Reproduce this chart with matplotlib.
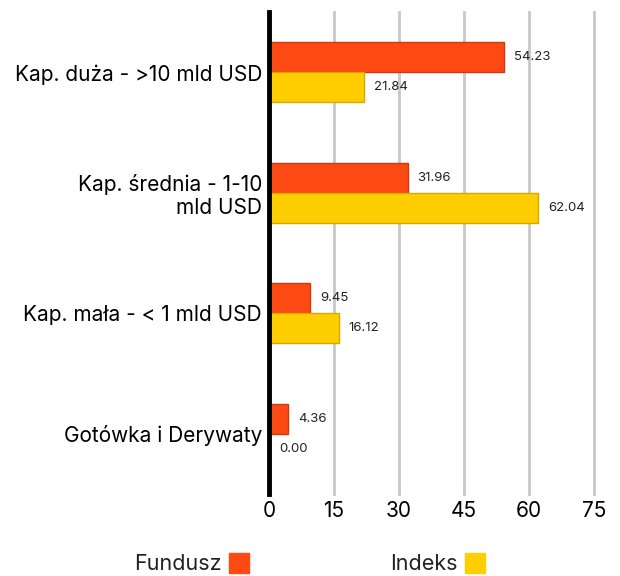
import matplotlib.pyplot as plt
from matplotlib.patches import Rectangle

plt.rcParams["font.family"] = ["Inter", "DejaVu Sans"]

CATEGORIES = ["Kap. duża - >10 mld USD", "Kap. średnia - 1-10\nmld USD",
              "Kap. mała - < 1 mld USD", "Gotówka i Derywaty"]
FUNDUSZ = [54.23, 31.96, 9.45, 4.36]
INDEKS = [21.84, 62.04, 16.12, 0.00]
XTICKS = [0, 15, 30, 45, 60, 75]

ORANGE, ORANGE_EDGE = "#fd4a14", "#d4380a"
YELLOW, YELLOW_EDGE = "#ffce00", "#d6a800"

fig = plt.figure(figsize=(6.2, 5.76), dpi=100)
ax = fig.add_axes([0.4339, 0.1424, 0.5242, 0.8366])

pos = list(range(len(CATEGORIES)))
h = 0.25
ax.barh([p - h / 2 for p in pos], FUNDUSZ, height=h, color=ORANGE,
        edgecolor=ORANGE_EDGE, linewidth=1, zorder=3)
ax.barh([p + h / 2 for p in pos], INDEKS, height=h, color=YELLOW,
        edgecolor=YELLOW_EDGE, linewidth=1, zorder=3)

for p, f, i in zip(pos, FUNDUSZ, INDEKS):
    ax.text(f + 2.3, p - h / 2, f"{f:.2f}", va="center", ha="left", fontsize=9.5, color="#222222")
    ax.text(i + 2.3, p + h / 2, f"{i:.2f}", va="center", ha="left", fontsize=9.5, color="#222222")

ax.set_xlim(0, 75)
ax.set_ylim(3.5, -0.5)
ax.set_xticks(XTICKS)
ax.set_xticklabels([str(x) for x in XTICKS], fontsize=15)
ax.set_yticks(pos)
ax.set_yticklabels(CATEGORIES, fontsize=15, ha="right", linespacing=1.15)
ax.tick_params(length=0, pad=5)
ax.tick_params(axis="x", pad=5)
ax.grid(axis="x", color="#c8c8c8", linewidth=2, zorder=0)
for gl in ax.get_xgridlines():
    gl.set_clip_on(False)
for s in ("top", "right", "bottom"):
    ax.spines[s].set_visible(False)
ax.spines["left"].set_linewidth(3.5)
ax.spines["left"].set_color("black")
ax.spines["left"].set_zorder(4)

# legend: text followed by a coloured square
W, H = 620, 576
for label, color, text_right, sq_left in (("Fundusz", ORANGE, 222, 229), ("Indeks", YELLOW, 458, 465)):
    fig.text(text_right / W, 1 - 564 / H, label, ha="right", va="center", fontsize=15.5, color="#222222")
    fig.patches.append(Rectangle((sq_left / W, 1 - 573 / H), 20 / W, 20 / H,
                                 transform=fig.transFigure, color=color, figure=fig))

fig.savefig("out.png", dpi=100)
